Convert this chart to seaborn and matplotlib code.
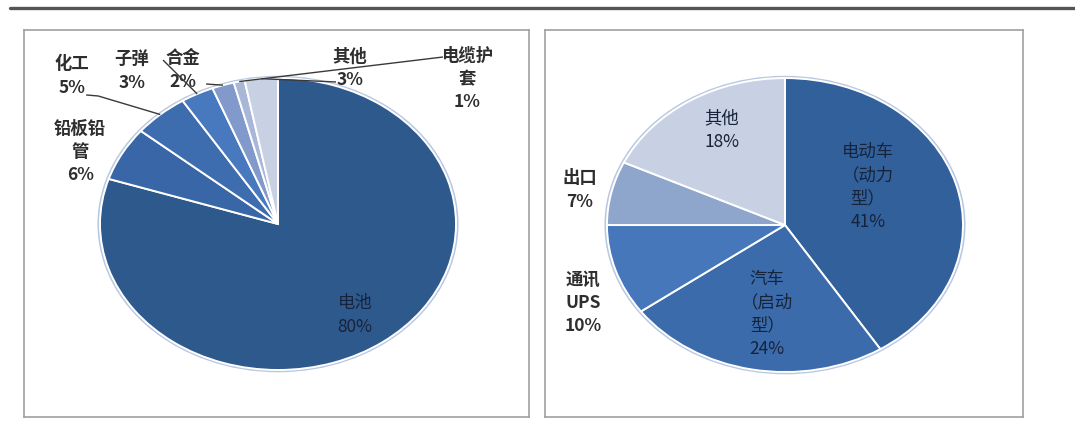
import matplotlib
matplotlib.use("Agg")
import matplotlib.pyplot as plt
from matplotlib.lines import Line2D
import numpy as np
import seaborn as sns

# Lead consumption by end use (left) and lead-acid battery demand by application (right)
left_names = ["电池", "铅板铅\n管", "化工", "子弹", "合金", "电缆护\n套", "其他"]
left_shares = [80, 6, 5, 3, 2, 1, 3]

right_names = ["电动车\n（动力\n型）", "汽车\n（启动\n型）", "通讯\nUPS", "出口", "其他"]
right_shares = [41, 24, 10, 7, 18]

left_colors = ["#2e598d", "#3866a6", "#3d6caf", "#4878bd", "#8199cb", "#a8b7d8", "#c8d0e4"]
right_colors = ["#31609b", "#3b6bab", "#4677bb", "#8ea5cc", "#c8d1e4"]

sns.set_theme(style="white")
plt.rcParams["font.family"] = ["Noto Sans CJK SC", "DejaVu Sans"]

W, H = 1075, 425
fig = plt.figure(figsize=(W / 100, H / 100), dpi=100)
fig.patch.set_facecolor("white")


def box(x0, y0, x1, y1):
    return [x0 / W, 1 - y1 / H, (x1 - x0) / W, (y1 - y0) / H]


def draw_pie(ax, values, colors, xlim, ylim):
    wedges, _ = ax.pie(values, colors=sns.color_palette(colors), startangle=90,
                       counterclock=False,
                       wedgeprops=dict(edgecolor="white", linewidth=1.4))
    # soft outline around the pie
    ring = matplotlib.patches.Circle((0, 0), 1.008, facecolor="none",
                                     edgecolor="#b9c8e0", linewidth=1.6, zorder=0)
    ax.add_patch(ring)
    ax.set_aspect("auto")
    ax.set_xlim(*xlim)
    ax.set_ylim(*ylim)
    ax.set_frame_on(True)
    for s in ax.spines.values():
        s.set_color("#a0a0a0")
        s.set_linewidth(1.2)
    ax.set_xticks([])
    ax.set_yticks([])
    return wedges


def mid_point(values, i, r=1.0):
    total = float(sum(values))
    start = sum(values[:i]) / total
    frac = start + values[i] / total / 2
    ang = np.deg2rad(90 - 360 * frac)
    return r * np.cos(ang), r * np.sin(ang)


OUT = dict(fontsize=12.5, fontweight="bold", color="#2e2e2e", ha="center",
           va="center", linespacing=1.38)
INN = dict(fontsize=12.5, color="#17233a", ha="center", va="center",
           linespacing=1.38)

# ---- left panel
axL = fig.add_axes(box(24, 30, 529, 417))
draw_pie(axL, left_shares, left_colors, (-1.427, 1.410), (-1.322, 1.329))

left_pos = [(0.433, -0.623), (-1.112, 0.493), (-1.157, 1.014), (-0.820, 1.048),
            (-0.534, 1.055), (1.062, 0.993), (0.404, 1.068)]
left_inside = [True, False, False, False, False, False, False]
for name, v, (x, y), inside in zip(left_names, left_shares, left_pos, left_inside):
    axL.text(x, y, f"{name}\n{v}%", **(INN if inside else OUT))

# leader lines from labels to their slices (化工 has a short horizontal lead-in)
leader_start = {2: [(-1.078, 0.884), (-1.010, 0.877)], 3: [(-0.646, 1.123)],
                4: [(-0.404, 0.959)], 5: [(0.927, 1.144)], 6: [(0.326, 0.973)]}
for i, pts in leader_start.items():
    ex, ey = mid_point(left_shares, i)
    xs = [p[0] for p in pts] + [ex]
    ys = [p[1] for p in pts] + [ey]
    axL.plot(xs, ys, color="#3a3a3a", lw=1.0, zorder=5, solid_capstyle="butt")

# ---- right panel
axR = fig.add_axes(box(545, 30, 1023, 417))
draw_pie(axR, right_shares, right_colors, (-1.348, 1.337), (-1.306, 1.327))

right_pos = [(0.466, 0.258), (-0.10, -0.605), (-1.135, -0.531), (-1.152, 0.238),
             (-0.354, 0.646)]
right_inside = [True, True, False, False, True]
for name, v, (x, y), inside in zip(right_names, right_shares, right_pos, right_inside):
    axR.text(x, y, f"{name}\n{v}%", **(INN if inside else OUT))

# rule across the top of the page
fig.add_artist(Line2D([10 / W, 1.0], [1 - 8 / H, 1 - 8 / H], color="#555555", lw=2.4))

fig.savefig("out.png", dpi=100, facecolor="white")
